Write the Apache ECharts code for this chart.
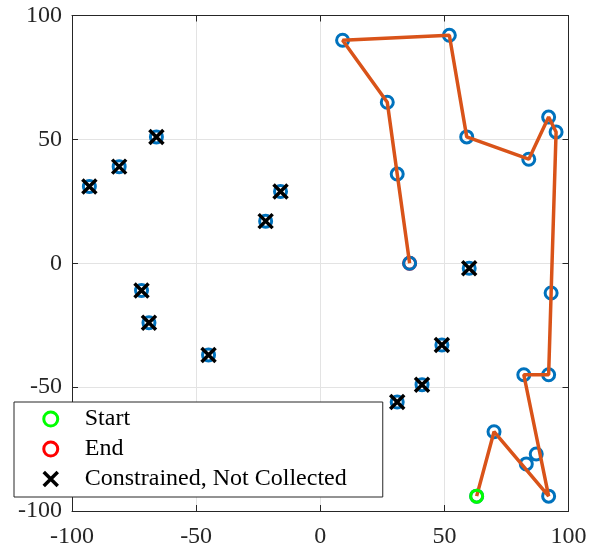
<!DOCTYPE html>
<html><head><meta charset="utf-8">
<script src="https://cdn.jsdelivr.net/npm/echarts@6/dist/echarts.min.js"></script>
<style>html,body{margin:0;padding:0;background:#fff}#c{width:591px;height:552px}</style>
</head><body><div id="c"></div>
<script>
// Targets (blue circles)
const targetX = [63, 70, 83, 87, 92, 82, 92, 93, 95, 92, 84, 59, 52, 9, 27, 31, 36,
                 -93, -81, -66, -16, -22, -72, -69, -45, 60, 49, 41, 31];
const targetY = [-94, -68, -81, -77, -94, -45, -45, -12, 53, 59, 42, 51, 92, 90, 65, 36, 0,
                 31, 39, 51, 29, 17, -11, -24, -37, -2, -33, -49, -56];
// Collection route (orange line)
const routeX = [63, 70, 92, 82, 92, 93, 95, 92, 84, 59, 52, 9, 27, 31, 36];
const routeY = [-94, -68, -94, -45, -45, -12, 53, 59, 42, 51, 92, 90, 65, 36, 0];
// Constrained, not collected
const consX = [-93, -81, -66, -16, -22, -72, -69, -45, 60, 49, 41, 31];
const consY = [31, 39, 51, 29, 17, -11, -24, -37, -2, -33, -49, -56];
const startPt = [63, -94];
const endPt = [36, 0];
const ticks = [-100, -50, 0, 50, 100];
const legendNames = ['Start', 'End', 'Constrained, Not Collected'];

const zip = (a, b) => a.map((v, i) => [v, b[i]]);
const font = 'Liberation Serif';
const axisCol = '#262626';
const ring = c => ({color: 'rgba(0,0,0,0)', borderColor: c, borderWidth: 3, opacity: 1});
const xPath = 'path://M0,0L10,10M10,0L0,10';

function axis(pos, show) {
  return {
    type: 'value', position: pos, min: -100, max: 100, interval: 50,
    axisLine: {show: true, onZero: false, lineStyle: {color: axisCol, width: 1}},
    axisTick: {show: true, inside: true, length: 6, lineStyle: {color: axisCol, width: 1}},
    axisLabel: show ? {show: true, fontFamily: font, fontSize: 24, color: axisCol,
      margin: pos === 'bottom' ? 14 : 10} : {show: false},
    splitLine: {show: show, lineStyle: {color: '#e3e3e3', width: 1}}
  };
}

const chart = echarts.init(document.getElementById('c'), null, {renderer: 'canvas'});
chart.setOption({
  animation: false,
  backgroundColor: '#fff',
  grid: {left: 72, right: 22.5, top: 15.5, bottom: 41, containLabel: false},
  xAxis: [axis('bottom', true), axis('top', false)],
  yAxis: [axis('left', true), axis('right', false)],
  legend: {
    left: 14, top: 402, orient: 'vertical',
    padding: [2, 8, 3, 28], itemGap: 0, itemWidth: 14, itemHeight: 14,
    borderColor: axisCol, borderWidth: 1, backgroundColor: '#fff',
    textStyle: {fontFamily: font, fontSize: 24, color: '#000', lineHeight: 30,
      padding: [0, 0, 0, 22], width: 290},
    data: [
      {name: legendNames[0], icon: 'circle', itemStyle: ring('#00ff00')},
      {name: legendNames[1], icon: 'circle', itemStyle: ring('#ff0000')},
      {name: legendNames[2], icon: xPath, itemStyle: {color: 'rgba(0,0,0,0)', borderColor: '#000', borderWidth: 3.5, opacity: 1}}
    ],
    z: 10
  },
  series: [
    {name: legendNames[1], type: 'scatter', data: [endPt], symbol: 'circle', symbolSize: 12,
      itemStyle: ring('#ff0000'), z: 1},
    {name: 'targets', type: 'scatter', data: zip(targetX, targetY), symbol: 'circle', symbolSize: 12,
      itemStyle: ring('#0072BD'), z: 2},
    {name: legendNames[2], type: 'scatter', data: zip(consX, consY), symbol: xPath, symbolSize: 14,
      itemStyle: {color: 'rgba(0,0,0,0)', borderColor: '#000', borderWidth: 3.5, opacity: 1}, z: 3},
    {name: 'route', type: 'line', data: zip(routeX, routeY), symbol: 'none',
      lineStyle: {color: '#D95319', width: 3.5}, z: 4},
    {name: legendNames[0], type: 'scatter', data: [startPt], symbol: 'circle', symbolSize: 12,
      itemStyle: ring('#00ff00'), z: 5}
  ]
});
</script></body></html>
